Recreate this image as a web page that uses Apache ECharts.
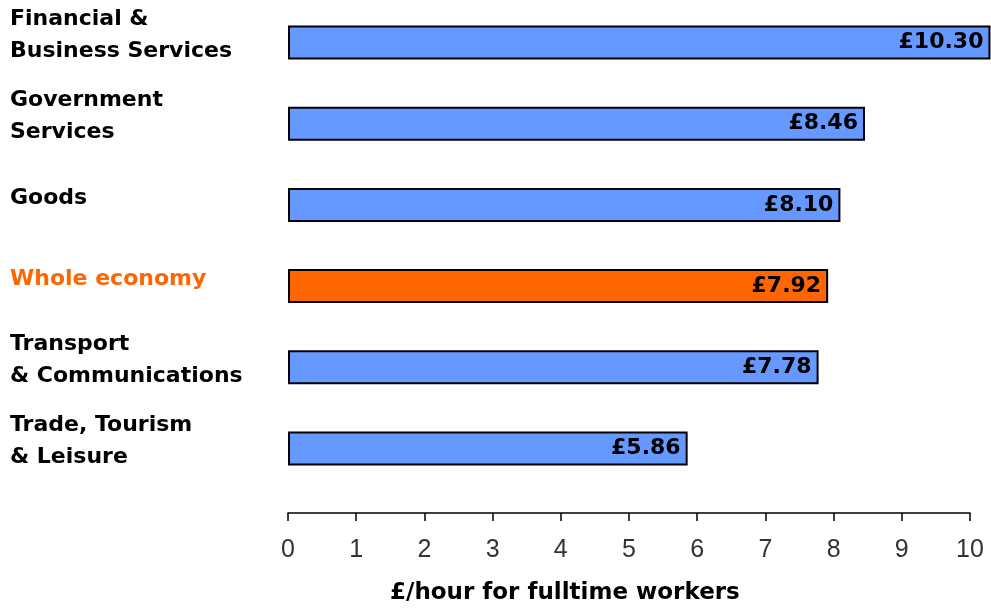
<!DOCTYPE html>
<html>
<head>
<meta charset="utf-8">
<script src="https://cdn.jsdelivr.net/npm/echarts@6/dist/echarts.min.js"></script>
<style>
  html, body { margin: 0; padding: 0; background: #fff; }
  #chart { width: 991px; height: 609px; }
</style>
</head>
<body>
<div id="chart"></div>
<script>
// Average hourly pay by sector (full-time workers)
const sectors = [
  'Financial &\nBusiness Services',
  'Government\nServices',
  'Goods',
  'Whole economy',
  'Transport\n& Communications',
  'Trade, Tourism\n& Leisure'
];
const hourlyPay = [10.30, 8.46, 8.10, 7.92, 7.78, 5.86];
const highlight = 'Whole economy';
const axisTitle = '£/hour for fulltime workers';

const BLUE = '#6699FF';
const ORANGE = '#FF6600';
const LABEL_FONT = 'DejaVu Sans, Verdana, sans-serif';

const chart = echarts.init(document.getElementById('chart'), null, { renderer: 'canvas' });

chart.setOption({
  animation: false,
  backgroundColor: '#ffffff',
  grid: { left: 288, right: 21, top: 2, bottom: 120, containLabel: false },
  xAxis: {
    type: 'value',
    min: 0,
    max: 10,
    interval: 1,
    offset: 24,
    splitLine: { show: false },
    axisLine: { show: true, lineStyle: { color: '#000', width: 1.5 } },
    axisTick: { show: true, length: 8, lineStyle: { color: '#000', width: 1.5 } },
    axisLabel: {
      margin: 25,
      color: '#333',
      fontFamily: 'Liberation Sans, Arial, sans-serif',
      fontSize: 25,
      fontWeight: 'normal'
    }
  },
  yAxis: {
    type: 'category',
    inverse: true,
    data: sectors,
    axisLine: { show: false },
    axisTick: { show: false },
    splitLine: { show: false },
    axisLabel: {
      align: 'left',
      margin: 278,
      lineHeight: 32,
      padding: [0, 0, 14, 0],
      fontFamily: LABEL_FONT,
      fontWeight: 'bold',
      fontSize: 22,
      color: '#000',
      formatter: function (v) {
        return v === highlight ? '{hl|' + v + '}' : v;
      },
      rich: {
        hl: {
          color: ORANGE,
          fontFamily: LABEL_FONT,
          fontWeight: 'bold',
          fontSize: 22,
          lineHeight: 32
        }
      }
    }
  },
  series: [{
    type: 'bar',
    clip: false,
    barWidth: 34,
    data: hourlyPay.map(function (v, i) {
      return {
        value: v,
        itemStyle: { color: sectors[i] === highlight ? ORANGE : BLUE }
      };
    }),
    itemStyle: { borderColor: '#000', borderWidth: 2 },
    label: {
      show: true,
      position: 'insideRight',
      distance: 7,
      color: '#000',
      fontFamily: LABEL_FONT,
      fontWeight: 'bold',
      fontSize: 22,
      formatter: function (p) { return '£' + p.value.toFixed(2); }
    }
  }],
  graphic: [{
    type: 'text',
    left: 390,
    top: 582,
    style: {
      text: axisTitle,
      fill: '#000',
      font: 'bold 23px "DejaVu Sans", Verdana, sans-serif'
    }
  }]
});
</script>
</body>
</html>
